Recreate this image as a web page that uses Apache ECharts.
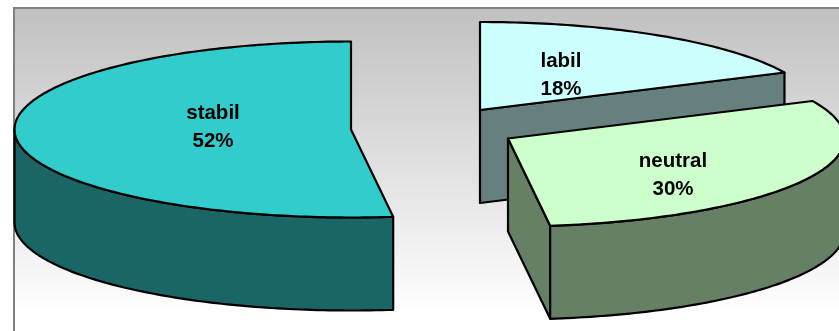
<!DOCTYPE html>
<html>
<head>
<meta charset="utf-8">
<style>html,body{margin:0;padding:0;background:#fff}#c{width:839px;height:331px}</style>
<script src="https://cdn.jsdelivr.net/npm/echarts@6/dist/echarts.min.js"></script>
</head>
<body>
<div id="c"></div>
<script>
// Data, clockwise from 12 o'clock
const categories = ['labil', 'neutral', 'stabil'];
const values = [18, 30, 52];

// Style and layout, kept apart from the data
const topColors = ['#CCFFFF', '#CCFFCC', '#33CCCC'];
const sideColors = ['#668080', '#668066', '#1A6666'];
const apexes = [[480, 110], [508, 138.5], [351, 129.5]];
const labelCentres = [[561, 75], [673, 175], [213, 127]];
const RX = 336.5, RY = 88, DEPTH = 93, SAMPLE_STEP = 1;
const FONT = '"Liberation Sans", Arial, sans-serif';

const total = values.reduce((a, b) => a + b, 0);
const seriesData = values.map((v, i) => [v, values.slice(0, i).reduce((a, b) => a + b, 0), i]);

function rimPoint(c, deg, drop) {
  const r = deg * Math.PI / 180;
  return [c[0] + RX * Math.sin(r), c[1] - RY * Math.cos(r) + drop];
}
function arc(c, from, to, drop) {
  const pts = [];
  const n = Math.max(1, Math.ceil(Math.abs(to - from) / SAMPLE_STEP));
  for (let k = 0; k <= n; k++) pts.push(rimPoint(c, from + (to - from) * k / n, drop));
  return pts;
}
const lineStyle = fill => ({ fill, stroke: '#000', lineWidth: 2.2, lineJoin: 'round' });
const poly = (points, fill) => ({ type: 'polygon', shape: { points }, style: lineStyle(fill) });

function renderItem(params, api) {
  const idx = api.value(2);
  const a0 = api.value(1) / total * 360;
  const a1 = a0 + api.value(0) / total * 360;
  const c = apexes[idx];
  const children = [];
  // Cut faces that turn towards the viewer
  [[a0, -1], [a1, 1]].forEach(([a, dir]) => {
    if (dir * Math.sin(a * Math.PI / 180) > 1e-6) {
      const e = rimPoint(c, a, 0);
      children.push(poly([c, e, [e[0], e[1] + DEPTH], [c[0], c[1] + DEPTH]], sideColors[idx]));
    }
  });
  // Outer wall: only the near half of the rim shows
  const w0 = Math.max(a0, 90), w1 = Math.min(a1, 270);
  if (w1 > w0) {
    children.push(poly(arc(c, w0, w1, 0).concat(arc(c, w1, w0, DEPTH)), sideColors[idx]));
  }
  // Top surface
  children.push(poly([c].concat(arc(c, a0, a1, 0)), topColors[idx]));
  // Label
  children.push({
    type: 'text',
    style: {
      x: labelCentres[idx][0], y: labelCentres[idx][1],
      text: categories[idx] + '\n' + api.value(0) + '%',
      align: 'center', verticalAlign: 'middle',
      font: 'bold 20.5px ' + FONT, lineHeight: 28, fill: '#000'
    }
  });
  return { type: 'group', children };
}

const chart = echarts.init(document.getElementById('c'), null, { renderer: 'canvas' });
chart.setOption({
  animation: false,
  backgroundColor: '#fff',
  graphic: [{
    type: 'rect', silent: true, z: 0,
    shape: { x: 14, y: 8, width: 840, height: 340 },
    style: {
      stroke: '#808080', lineWidth: 2,
      fill: {
        type: 'linear', x: 0, y: 0, x2: 0, y2: 0.9,
        colorStops: [{ offset: 0, color: '#C0C0C0' }, { offset: 1, color: '#FFFFFF' }]
      }
    }
  }],
  series: [{
    type: 'custom',
    coordinateSystem: 'none',
    silent: true,
    clip: false,
    renderItem,
    data: seriesData
  }]
});
</script>
</body>
</html>
